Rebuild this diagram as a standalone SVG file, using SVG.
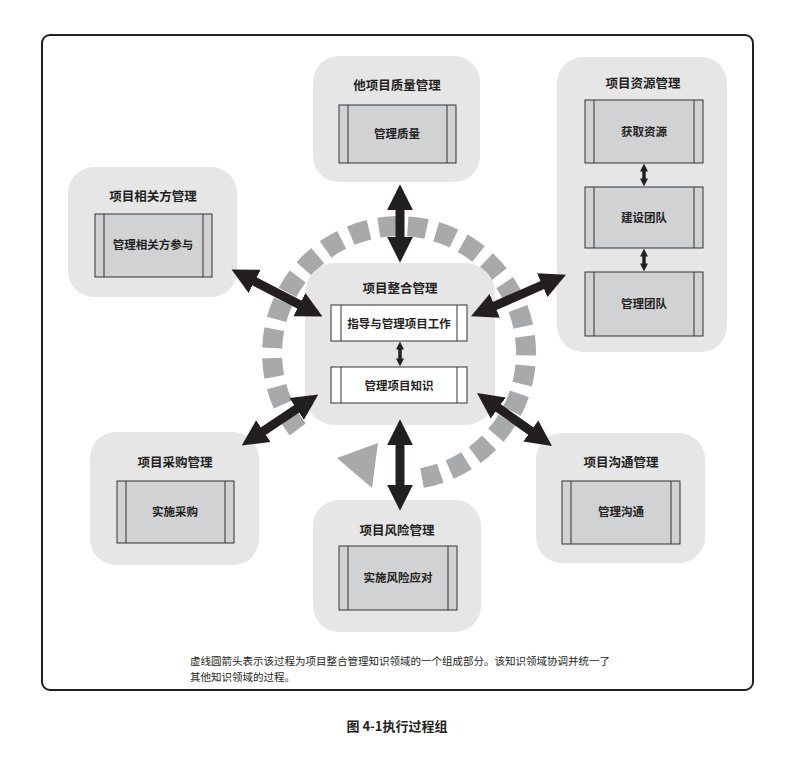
<svg xmlns="http://www.w3.org/2000/svg" width="795" height="758" viewBox="0 0 795 758">
<defs>
<style>
text{font-family:"Noto Sans CJK SC","Liberation Sans",sans-serif;fill:#231f20;text-anchor:middle}
.g{fill:#e6e6e7}
.t{font-size:12.5px;font-weight:bold}
.l{font-size:11.5px;font-weight:bold}
.b{fill:#d1d2d4;stroke:#333;stroke-width:1}
.w{fill:#fff;stroke:#333;stroke-width:1}
.a{stroke:#231f20;stroke-width:9;fill:none;marker-start:url(#h);marker-end:url(#h)}
.s{stroke:#231f20;stroke-width:3.5;fill:none;marker-start:url(#hs);marker-end:url(#hs)}
</style>
<marker id="h" viewBox="0 0 10 10" refX="2" refY="5" markerWidth="26" markerHeight="30" markerUnits="userSpaceOnUse" orient="auto-start-reverse"><path d="M0,0L10,5L0,10z" fill="#231f20"/></marker>
<marker id="hs" viewBox="0 0 10 10" refX="2" refY="5" markerWidth="8" markerHeight="11" markerUnits="userSpaceOnUse" orient="auto-start-reverse"><path d="M0,0L10,5L0,10z" fill="#231f20"/></marker>
</defs>
<rect x="42" y="35" width="711" height="655" rx="8" fill="#fff" stroke="#231f20" stroke-width="2"/>
<g id="cycle">
<path d="M 422 478 A 127 127 0 1 0 302 435" fill="none" stroke="#a8a9ab" stroke-width="20" stroke-dasharray="19 10"/>
<polygon points="337,458 378,443 372,488" fill="#a8a9ab"/>
</g>
<g id="quality"><rect class="g" x="313" y="56" width="167" height="126" rx="26"/><text class="t" x="397" y="90">他项目质量管理</text>
<rect class="b" x="339" y="105" width="117" height="58"/><path d="M348 105V163M447 105V163" stroke="#333"/><text class="l" x="397" y="138">管理质量</text></g>
<g id="stakeholder"><rect class="g" x="68" y="167" width="169" height="130" rx="26"/><text class="t" x="153" y="201">项目相关方管理</text>
<rect class="b" x="95" y="214" width="117" height="63"/><path d="M104 214V277M203 214V277" stroke="#333"/><text class="l" x="153" y="249">管理相关方参与</text></g>
<g id="resource"><rect class="g" x="557" y="57" width="170" height="295" rx="26"/><text class="t" x="643" y="88">项目资源管理</text>
<rect class="b" x="585" y="100" width="118" height="63"/><path d="M594 100V163M694 100V163" stroke="#333"/><text class="l" x="644" y="136">获取资源</text>
<rect class="b" x="585" y="187" width="118" height="61"/><path d="M594 187V248M694 187V248" stroke="#333"/><text class="l" x="644" y="222">建设团队</text>
<rect class="b" x="585" y="272" width="118" height="64"/><path d="M594 272V336M694 272V336" stroke="#333"/><text class="l" x="644" y="308">管理团队</text></g>
<g id="integration"><rect class="g" x="305" y="263" width="190" height="162" rx="30"/><text class="t" x="400" y="293">项目整合管理</text>
<rect class="w" x="331" y="305" width="136" height="36"/><path d="M341 305V341M457 305V341" stroke="#333"/><text class="l" x="399" y="328">指导与管理项目工作</text>
<rect class="w" x="331" y="367" width="136" height="36"/><path d="M341 367V403M457 367V403" stroke="#333"/><text class="l" x="399" y="390">管理项目知识</text></g>
<g id="procurement"><rect class="g" x="90" y="432" width="169" height="133" rx="26"/><text class="t" x="175" y="467">项目采购管理</text>
<rect class="b" x="117" y="481" width="117" height="62"/><path d="M126 481V543M225 481V543" stroke="#333"/><text class="l" x="175" y="516">实施采购</text></g>
<g id="risk"><rect class="g" x="313" y="500" width="168" height="132" rx="26"/><text class="t" x="397" y="535">项目风险管理</text>
<rect class="b" x="339" y="546" width="118" height="64"/><path d="M348 546V610M448 546V610" stroke="#333"/><text class="l" x="398" y="582">实施风险应对</text></g>
<g id="communication"><rect class="g" x="536" y="433" width="169" height="130" rx="26"/><text class="t" x="621" y="467">项目沟通管理</text>
<rect class="b" x="562" y="481" width="118" height="63"/><path d="M571 481V544M671 481V544" stroke="#333"/><text class="l" x="621" y="516">管理沟通</text></g>
<g id="connectors">
<line class="a" x1="400" y1="205" x2="400" y2="242"/>
<line class="a" x1="250" y1="279" x2="304" y2="307"/>
<line class="a" x1="547" y1="283" x2="490" y2="308"/>
<line class="a" x1="259" y1="434" x2="301" y2="406"/>
<line class="a" x1="535" y1="434" x2="494" y2="405"/>
<line class="a" x1="400" y1="440" x2="400" y2="490"/>
<line class="s" x1="400" y1="348" x2="400" y2="360"/>
<line class="s" x1="644" y1="170" x2="644" y2="180"/>
<line class="s" x1="644" y1="255" x2="644" y2="265"/>
</g>
<text x="190" y="665" style="font-size:10.5px;text-anchor:start">虚线圆箭头表示该过程为项目整合管理知识领域的一个组成部分。该知识领域协调并统一了</text>
<text x="190" y="681" style="font-size:10.5px;text-anchor:start">其他知识领域的过程。</text>
<text x="397" y="731" style="font-size:13px;font-weight:bold">图 4-1执行过程组</text>
</svg>
